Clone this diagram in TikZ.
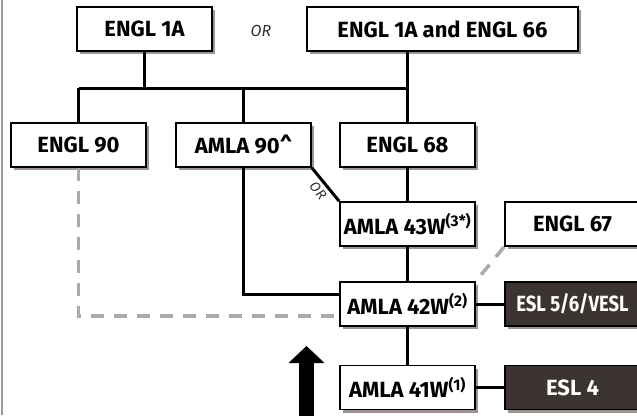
\documentclass[tikz,border=0pt]{standalone}
\usepackage{fontspec}
\setmainfont{Fira Sans}
\usetikzlibrary{shadows,arrows.meta}

\definecolor{shadowgray}{HTML}{9E9593}
\definecolor{darkfill}{HTML}{3B3431}
\definecolor{dashgray}{HTML}{AAAAAA}
\definecolor{ortextgray}{HTML}{333333}

\tikzset{
  course/.style={draw=black, line width=1.8pt, fill=white,
    minimum width=135pt, minimum height=44pt, inner sep=0pt,
    font=\fontsize{22}{25}\selectfont\bfseries,
    drop shadow={shadow xshift=3pt, shadow yshift=-3pt, fill=shadowgray, opacity=1}},
  eslcourse/.style={course, fill=darkfill, text=white},
  conn/.style={line width=3pt, black},
  altconn/.style={line width=3.5pt, dashgray, dash pattern=on 13pt off 10pt},
  ortext/.style={font=\fontsize{16}{18}\selectfont\itshape, text=ortextgray},
}

\begin{document}
\begin{tikzpicture}[x=1pt, y=-1pt]

  % --- 1. frame ---
  \useasboundingbox (0,0) rectangle (637,415);
  \clip (0,0) rectangle (637,415);
  \draw[line width=2pt, gray!80] (2,0) -- (2,415);

  % --- 2. top row ---
  \node[course] (engl1a)   at (144.5,29) {ENGL 1A};
  \node[course, minimum width=271pt] (engl1a66) at (442.5,29) {ENGL 1A and ENGL 66};
  \node[ortext] (ortop) at (261,31) {OR};

  % --- 3. second row ---
  \node[course] (engl90) at (78.5,145)  {ENGL 90};
  \node[course] (amla90) at (243.5,145) {AMLA 90\textasciicircum};
  \node[course] (engl68) at (407.5,145) {ENGL 68};

  % --- 4. AMLA ladder and ESL ---
  \node[course] (amla43) at (407.5,224)   {AMLA 43W\textsuperscript{(3*)}};
  \node[course] (engl67) at (572.5,224)   {ENGL 67};
  \node[course] (amla42) at (407.5,304)   {AMLA 42W\textsuperscript{(2)}};
  \node[eslcourse] (esl56) at (572.5,304) {\scalebox{0.84}[1]{ESL 5/6/VESL}};
  \node[course] (amla41) at (407.5,387.5) {AMLA 41W\textsuperscript{(1)}};
  \node[eslcourse] (esl4) at (572.5,387.5) {ESL 4};

  % --- 5. connectors ---
  \coordinate (barL) at (engl90.north |- 0,88);
  \coordinate (barR) at (engl68.north |- 0,88);
  \draw[conn] (barL) -- (barR);
  \draw[conn] (engl1a.south) -- (engl1a.south |- barL);
  \draw[conn] (engl90.north) -- (barL);
  \draw[conn] (amla90.north) -- (amla90.north |- barL);
  \draw[conn] (engl68.north |- engl1a66.south) -- (engl68.north);
  \draw[conn] (engl68) -- (amla43);
  \draw[conn] (amla43) -- (amla42);
  \draw[conn] (amla42) -- (amla41);
  \draw[conn] (amla42) -- (esl56);
  \draw[conn] (amla41) -- (esl4);
  \draw[conn] (amla90.south) |- ([yshift=10pt]amla42.west);
  \draw[conn] (amla90.south east) -- (amla43.north west)
    node[ortext, font=\fontsize{14}{16}\selectfont\itshape, midway, sloped, below=3pt, inner sep=0pt] {OR};

  % alternative routes
  \draw[altconn] (engl90.south) |- ([yshift=-12pt]amla42.west);
  \draw[altconn] (engl67.south west) -- (amla42.north east);

  % --- 6. direction arrow ---
  \coordinate (arrowtail) at (306.5,420);
  \coordinate (arrowtip)  at (306.5,346);
  \draw[line width=15pt, -{Triangle[width=35pt, length=17pt]}] (arrowtail) -- (arrowtip);

\end{tikzpicture}
\end{document}
